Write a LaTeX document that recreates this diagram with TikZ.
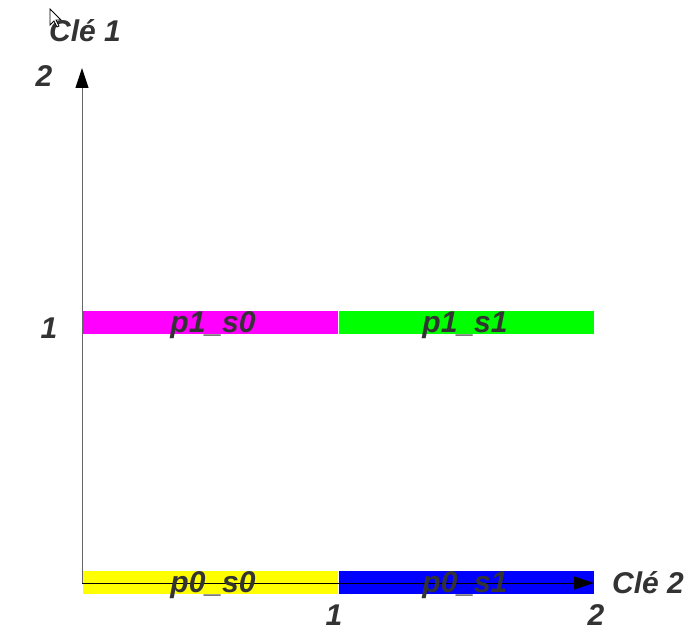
\documentclass[tikz,border=0pt]{standalone}
\usepackage{fontspec}
\setmainfont{Liberation Sans}
\usetikzlibrary{arrows.meta}
\definecolor{txt}{HTML}{333333}
\definecolor{axgray}{HTML}{666666}
\definecolor{cmag}{HTML}{FF00FF}
\definecolor{cgreen}{HTML}{00FF00}
\definecolor{cyellow}{HTML}{FFFF00}
\definecolor{cblue}{HTML}{0000FF}
\begin{document}
\begin{tikzpicture}[x=1pt,y=-1pt,
  bar/.style={rectangle,inner sep=0pt,minimum width=255pt,minimum height=23pt,draw=none},
  lbl/.style={anchor=base,inner sep=0pt,text=txt,font=\fontsize{30}{30}\selectfont\bfseries\itshape},
  axis/.style={line width=1pt,-{Triangle[length=20pt,width=13pt,color=black]}}]
\useasboundingbox (0,0) rectangle (694,636);
% bars
\node[bar,fill=cyellow] (b00) at (210.5,582.5) {};
\node[bar,fill=cblue]   (b01) at (466.5,582.5) {};
\node[bar,fill=cmag]    (b10) at (210.5,323) {};
\node[bar,fill=cgreen]  (b11) at (466.5,323) {};
% axes
\coordinate (O) at (82,583);
\coordinate (Ytip) at (82,68);
\coordinate (Xtip) at (594,583);
\draw[axis,draw=axgray] (O) -- (Ytip);
\draw[axis,black] (O) -- (Xtip);
% bar labels
\node[lbl] (l00) at (213,592) {p0\_s0};
\node[lbl] (l01) at (465,592) {p0\_s1};
\node[lbl] (l10) at (213,333) {p1\_s0};
\node[lbl] (l11) at (465,333) {p1\_s1};
% axis labels
\node[lbl] (k1) at (85,42) {Clé 1};
\node[lbl] (k2) at (648,593) {Clé 2};
\node[lbl] (y2) at (44,87) {2};
\node[lbl] (y1) at (49,339) {1};
\node[lbl] (x1) at (334,625) {1};
\node[lbl] (x2) at (596,625) {2};
% mouse cursor
\draw[fill=white,line width=0.8pt,line join=miter] (50,9) -- ++(0,16) -- ++(4,-4) -- ++(3,6) -- ++(2,-1) -- ++(-3,-6) -- ++(5,0) -- cycle;
\end{tikzpicture}
\end{document}
